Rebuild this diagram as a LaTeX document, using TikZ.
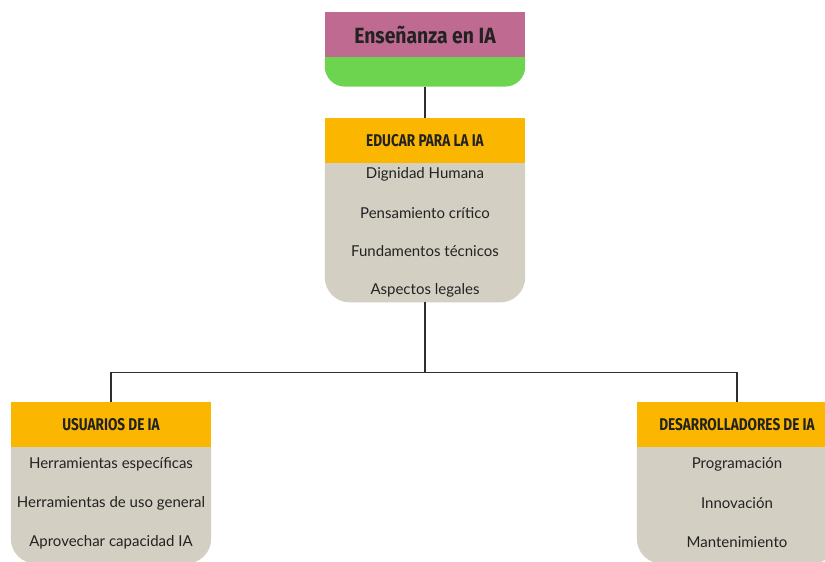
\documentclass[tikz,border=0pt]{standalone}
\usepackage{fontspec}
\setmainfont{Lato}
\newfontfamily\titlefont[FakeStretch=0.88]{Fira Sans}
\newfontfamily\headfont[FakeStretch=0.8]{Fira Sans}
\usetikzlibrary{positioning}
\usetikzlibrary{backgrounds}

\definecolor{titlepink}{HTML}{BF6A90}
\definecolor{titlegreen}{HTML}{6CD44E}
\definecolor{headorange}{HTML}{FBB700}
\definecolor{bodygray}{HTML}{D3CFC3}
\definecolor{linegray}{HTML}{2E2E2E}
\definecolor{textdark}{HTML}{222222}

\tikzset{
  titlebox/.style={rectangle, fill=titlepink, minimum width=200pt, minimum height=45pt,
    inner sep=0pt, text=textdark, font=\titlefont\bfseries\fontsize{22}{25}\selectfont},
  basebox/.style={rectangle, minimum width=200pt, minimum height=29pt, inner sep=0pt},
  head/.style={rectangle, fill=headorange, minimum width=200pt, minimum height=45pt,
    inner sep=0pt, text=textdark, font=\headfont\bfseries\fontsize{17}{20}\selectfont},
  body/.style={rectangle, minimum width=200pt, inner sep=0pt},
  item/.style={inner sep=0pt, text=textdark, font=\fontsize{15}{18}\selectfont},
  link/.style={draw=linegray, line width=1.4pt},
}

\begin{document}
\begin{tikzpicture}[x=1pt, y=-1pt]
    \useasboundingbox (0,0) rectangle (825,562);
    \clip (0,0) rectangle (825,562);

    % Title
    \node[titlebox] (title) at (425,34.5) {Enseñanza en IA};
    \node[basebox, below=0pt of title] (titlebase) {};

    % Educar para la IA
    \node[head, below=31pt of titlebase] (eduhead) {EDUCAR PARA LA IA};
    \node[body, minimum height=139pt, below=0pt of eduhead] (edubody) {};
    \foreach \txt [count=\i] in {Dignidad Humana, Pensamiento crítico, Fundamentos técnicos, Aspectos legales}
        \node[item] (edu\i) at ([yshift={-11-38.7*(\i-1)}]edubody.north) {\txt};

    % Usuarios and desarrolladores
    \coordinate[below=70pt of edubody.south] (hub);
    \node[head] (usrhead) at (111,424.5) {USUARIOS DE IA};
    \node[body, minimum height=116pt, below=0pt of usrhead] (usrbody) {};
    \foreach \txt [count=\i] in {Herramientas específicas, Herramientas de uso general, Aprovechar capacidad IA}
        \node[item] (usr\i) at ([yshift={-17-39*(\i-1)}]usrbody.north) {\txt};

    \node[head] (devhead) at (737,424.5) {DESARROLLADORES DE IA};
    \node[body, minimum height=116pt, below=0pt of devhead] (devbody) {};
    \foreach \txt [count=\i] in {Programación, Innovación, Mantenimiento}
        \node[item] (dev\i) at ([yshift={-17-39*(\i-1)}]devbody.north) {\txt};

    % Rounded bottoms
    \begin{scope}[on background layer]
        \fill[white] (0,0) rectangle (825,562);
        \fill[titlegreen] (titlebase.north west) [rounded corners=20pt] -- (titlebase.south west)
            -- (titlebase.south east) [sharp corners] -- (titlebase.north east) -- cycle;
        \foreach \b in {edubody, usrbody, devbody}
            \fill[bodygray] (\b.north west) [rounded corners=25pt] -- (\b.south west)
                -- (\b.south east) [sharp corners] -- (\b.north east) -- cycle;
    \end{scope}

    % Connectors
    \draw[link] (titlebase) -- (eduhead);
    \draw[link] (edubody) -- (hub);
    \draw[link] (usrhead.north) |- (hub) -| (devhead.north);
\end{tikzpicture}
\end{document}
